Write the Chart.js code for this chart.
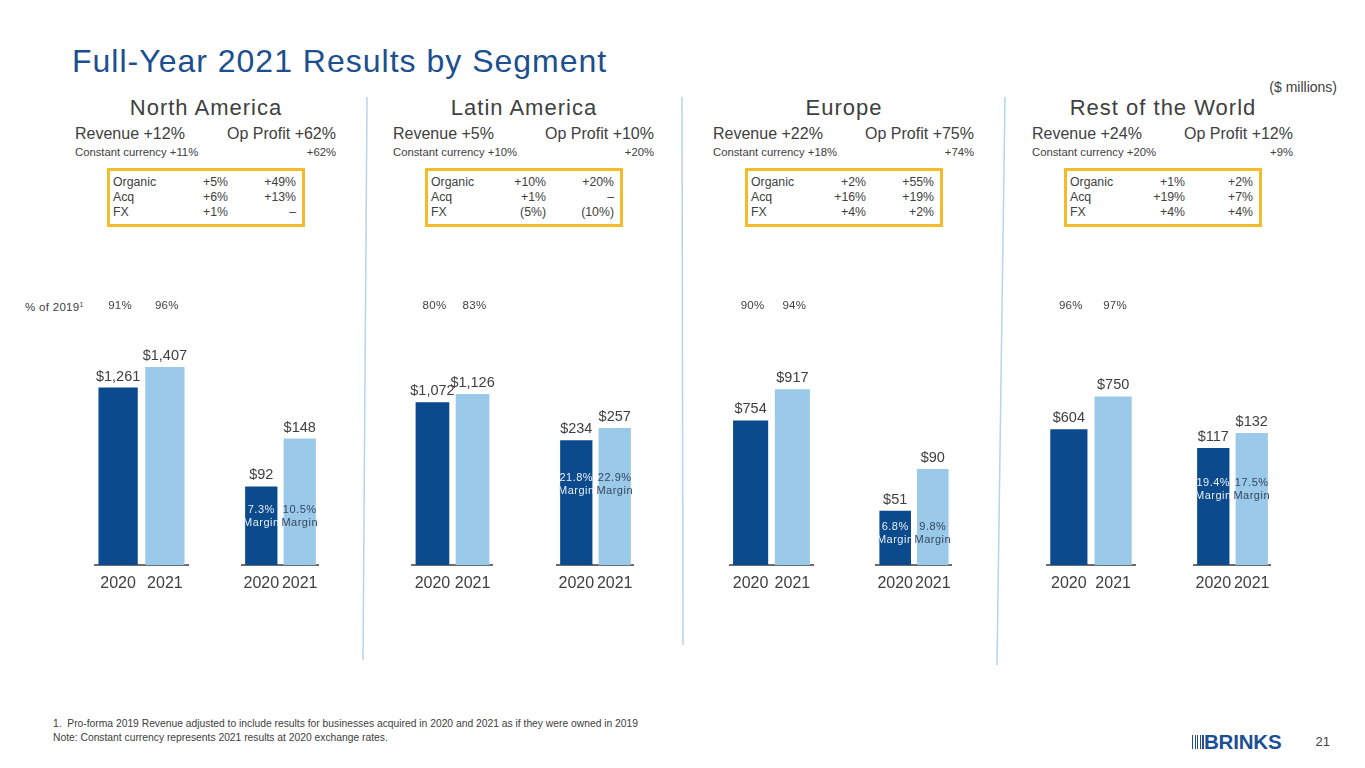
<!DOCTYPE html>
<html>
<head>
<meta charset="utf-8">
<script src="https://cdn.jsdelivr.net/npm/chart.js@4/dist/chart.umd.min.js"></script>
<style>
  html, body { margin: 0; padding: 0; background: #fff; }
  #slide { position: relative; width: 1365px; height: 768px; overflow: hidden; font-family: "Liberation Sans", Arial, sans-serif; color: #404040; }
  .t { position: absolute; white-space: nowrap; }
  .box { position: absolute; border: 3px solid #f6bb2a; box-sizing: border-box; }
  canvas { position: absolute; }
</style>
</head>
<body>
<div id="slide">
  <svg width="1365" height="768" style="position:absolute;left:0;top:0">
    <line x1="367" y1="97" x2="363" y2="660" stroke="#b7d4ec" stroke-width="1.5"/>
    <line x1="682" y1="97" x2="683" y2="645" stroke="#b7d4ec" stroke-width="1.5"/>
    <line x1="1005" y1="97" x2="997" y2="665" stroke="#b7d4ec" stroke-width="1.5"/>
  </svg>
</div>
<script>
// segment data ($ millions)
const segments = ['North America', 'Latin America', 'Europe', 'Rest of the World'];
const years = ['2020', '2021'];
const revenue2020 = [1261, 1072, 754, 604];
const revenue2021 = [1407, 1126, 917, 750];
const opProfit2020 = [92, 234, 51, 117];
const opProfit2021 = [148, 257, 90, 132];
const margin2020 = [7.3, 21.8, 6.8, 19.4];
const margin2021 = [10.5, 22.9, 9.8, 17.5];
const pctOf2019_2020 = [91, 80, 90, 96];
const pctOf2019_2021 = [96, 83, 94, 97];

// growth text
const revGrowth = ['+12%', '+5%', '+22%', '+24%'];
const opGrowth = ['+62%', '+10%', '+75%', '+12%'];
const ccRevGrowth = ['+11%', '+10%', '+18%', '+20%'];
const ccOpGrowth = ['+62%', '+20%', '+74%', '+9%'];
const organicRev = ['+5%', '+10%', '+2%', '+1%'];
const organicOp = ['+49%', '+20%', '+55%', '+2%'];
const acqRev = ['+6%', '+1%', '+16%', '+19%'];
const acqOp = ['+13%', '\u2013', '+19%', '+7%'];
const fxRev = ['+1%', '(5%)', '+4%', '+4%'];
const fxOp = ['\u2013', '(10%)', '+2%', '+4%'];

// each little chart has its own scale in the slide
const revAxisMax = [1955, 1812, 1434, 1224];
const opAxisMax = [322, 516, 258, 275];

// layout
const DARK = '#0b4a8c';
const LIGHT = '#9bc9ea';
const FONT = '"Liberation Sans", Arial, sans-serif';
const boxLeft = [107, 425, 745, 1064];
const revAxisX = [[92, 191], [407, 498], [725, 818], [1043, 1139]];
const opAxisX = [[236, 325], [551, 640], [870, 958], [1188, 1277]];
const CHART_TOP = 290;
const AREA_H = 275;
const XAXIS_H = 34;

var slide = document.getElementById('slide');

function txt(s, x, baseline, size, opts) {
  opts = opts || {};
  var d = document.createElement('div');
  d.className = 't';
  d.innerHTML = s;
  d.style.fontSize = size + 'px';
  d.style.lineHeight = size + 'px';
  d.style.top = (baseline - 0.8465 * size) + 'px';
  if (opts.align === 'right') {
    d.style.right = (1365 - x) + 'px';
  } else if (opts.align === 'center') {
    d.style.left = (x - 200) + 'px';
    d.style.width = '400px';
    d.style.textAlign = 'center';
  } else {
    d.style.left = x + 'px';
  }
  if (opts.color) d.style.color = opts.color;
  if (opts.ls) d.style.letterSpacing = opts.ls + 'px';
  if (opts.bold) d.style.fontWeight = 'bold';
  slide.appendChild(d);
  return d;
}

// headings
txt('Full-Year 2021 Results by Segment', 72, 72, 32, { color: '#1b4f8f', ls: 1 });
txt('($ millions)', 1337, 92, 14, { align: 'right' });
txt('% of 2019<sup style="font-size:7px;vertical-align:4px">1</sup>', 25, 309, 11.5, { ls: 0.3 });

for (var s = 0; s < segments.length; s++) {
  var bl = boxLeft[s];
  var br = bl + 198;
  txt(segments[s], bl + 99, 116, 22, { align: 'center', ls: 1 });
  txt('Revenue ' + revGrowth[s], bl - 32, 140, 16);
  txt('Op Profit ' + opGrowth[s], br + 31, 140, 16, { align: 'right' });
  txt('Constant currency ' + ccRevGrowth[s], bl - 32, 156.7, 11.3);
  txt(ccOpGrowth[s], br + 31, 156.7, 11.3, { align: 'right' });

  var b = document.createElement('div');
  b.className = 'box';
  b.style.left = bl + 'px';
  b.style.top = '168px';
  b.style.width = '198px';
  b.style.height = '59px';
  slide.appendChild(b);

  var rows = [['Organic', organicRev[s], organicOp[s]], ['Acq', acqRev[s], acqOp[s]], ['FX', fxRev[s], fxOp[s]]];
  for (var r = 0; r < rows.length; r++) {
    var y = 186 + r * 15.3;
    txt(rows[r][0], bl + 6, y, 12.3);
    txt(rows[r][1], bl + 121, y, 12.3, { align: 'right' });
    txt(rows[r][2], bl + 189, y, 12.3, { align: 'right' });
  }
}

// footnotes, page number, logo
txt('1.&nbsp; Pro-forma 2019 Revenue adjusted to include results for businesses acquired in 2020 and 2021 as if they were owned in 2019', 53, 727.5, 10.3);
txt('Note: Constant currency represents 2021 results at 2020 exchange rates.', 53, 742, 10.3);
txt('21', 1330, 746, 13, { align: 'right' });
var stripes = document.createElement('div');
stripes.style.cssText = 'position:absolute;left:1192px;top:735px;width:13px;height:14px;background:repeating-linear-gradient(90deg,#1d4f97 0 1.3px,transparent 1.3px 2.6px)';
slide.appendChild(stripes);
txt('BRINKS', 1204, 749, 20.5, { color: '#1d4f97', bold: true, ls: -0.2 });

// labels on bars
const barLabels = {
  id: 'barLabels',
  afterDatasetsDraw(chart, args, opts) {
    var ctx = chart.ctx;
    var meta = chart.getDatasetMeta(0);
    var vals = chart.data.datasets[0].data;
    ctx.save();
    ctx.textAlign = 'center';
    ctx.fillStyle = '#404040';
    ctx.font = '14.5px ' + FONT;
    meta.data.forEach(function (bar, i) {
      ctx.fillText('$' + vals[i].toLocaleString('en-US'), bar.x, bar.y - 7);
    });
    if (opts.pct) {
      ctx.font = '11.5px ' + FONT;
      ctx.letterSpacing = '0.3px';
      meta.data.forEach(function (bar, i) {
        ctx.fillText(opts.pct[i] + '%', bar.x + 2, chart.chartArea.top + 19);
      });
    }
    if (opts.margin) {
      var first = meta.data[0];
      var y = first.y + 0.3 * (first.base - first.y);
      ctx.font = '11px ' + FONT;
      ctx.letterSpacing = '0.5px';
      ctx.textBaseline = 'middle';
      meta.data.forEach(function (bar, i) {
        ctx.fillStyle = i === 0 ? '#e8eef6' : '#34475c';
        ctx.fillText(opts.margin[i].toFixed(1) + '%', bar.x, y);
        ctx.fillText('Margin', bar.x, y + 13);
      });
    }
    ctx.restore();
  }
};

function makeChart(axisX, values, max, labelOpts) {
  var c = document.createElement('canvas');
  var w = axisX[1] - axisX[0];
  c.width = w;
  c.height = AREA_H + XAXIS_H;
  c.style.left = axisX[0] + 'px';
  c.style.top = CHART_TOP + 'px';
  c.style.width = w + 'px';
  c.style.height = (AREA_H + XAXIS_H) + 'px';
  slide.appendChild(c);
  new Chart(c, {
    type: 'bar',
    data: {
      labels: years,
      datasets: [{
        data: values,
        backgroundColor: [DARK, LIGHT],
        barPercentage: 0.84,
        categoryPercentage: 1
      }]
    },
    options: {
      responsive: false,
      animation: false,
      layout: { padding: 0 },
      plugins: {
        legend: { display: false },
        tooltip: { enabled: false },
        barLabels: labelOpts
      },
      scales: {
        x: {
          grid: { color: 'transparent', drawTicks: false },
          border: { color: '#6d6d6d', width: 2 },
          ticks: { color: '#404040', font: { size: 16, family: FONT }, padding: 9, maxRotation: 0, autoSkip: false },
          afterFit: function (scale) { scale.height = XAXIS_H; }
        },
        y: { display: false, min: 0, max: max }
      }
    },
    plugins: [barLabels]
  });
}

for (var i = 0; i < segments.length; i++) {
  makeChart(revAxisX[i], [revenue2020[i], revenue2021[i]], revAxisMax[i],
    { pct: [pctOf2019_2020[i], pctOf2019_2021[i]] });
  makeChart(opAxisX[i], [opProfit2020[i], opProfit2021[i]], opAxisMax[i],
    { margin: [margin2020[i], margin2021[i]] });
}
</script>
</body>
</html>
